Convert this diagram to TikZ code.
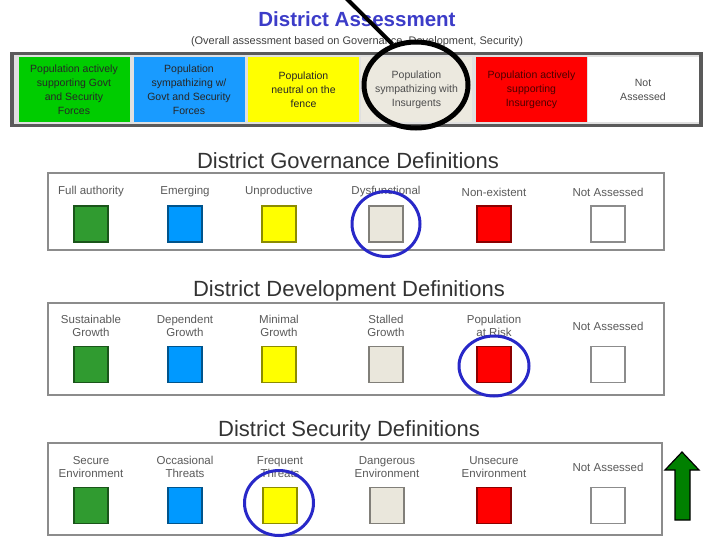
\documentclass[tikz,border=0pt]{standalone}
\usepackage{fontspec}
\setmainfont{Liberation Sans}
\usetikzlibrary{positioning,shapes.geometric}
\definecolor{cgreen}{RGB}{0,204,0}
\definecolor{cblue}{RGB}{25,155,255}
\definecolor{cyellow}{RGB}{255,255,0}
\definecolor{cbeige}{RGB}{236,233,223}
\definecolor{cred}{RGB}{255,0,0}
\definecolor{sgreen}{RGB}{48,155,48}
\definecolor{sblue}{RGB}{0,153,255}
\definecolor{syellow}{RGB}{255,255,0}
\definecolor{sbeige}{RGB}{234,231,220}
\definecolor{sred}{RGB}{255,0,0}
\definecolor{titleblue}{RGB}{60,60,200}
\definecolor{ringblue}{RGB}{40,40,200}
\definecolor{framegray}{RGB}{90,90,90}
\definecolor{boxgray}{RGB}{140,140,140}
\definecolor{arrowgreen}{RGB}{0,128,0}
\begin{document}
\begin{tikzpicture}[x=1pt,y=-1pt,
  cell/.style={fill=#1,minimum width=111pt,minimum height=65pt,inner sep=0pt,align=center,
    font=\fontsize{10.5}{14}\selectfont},
  swatch/.style={draw=#1!55!black,fill=#1,line width=1.5pt,minimum width=34pt,minimum height=36pt,inner sep=0pt},
  deflabel/.style={align=center,text=black!65,inner sep=0pt,font=\fontsize{11.5}{13.5}\selectfont},
  sectitle/.style={text=black!80,font=\fontsize{22}{24}\selectfont},
  secbox/.style={draw=boxgray,line width=1.6pt},
  ring/.style={draw=ringblue,line width=3pt,ellipse,inner sep=0pt}]
  \useasboundingbox (0,0) rectangle (706,544);
  \node[text=titleblue,font=\bfseries\fontsize{20.5}{22}\selectfont] (maintitle) at (357,19) {District Assessment};
  \node[text=black!75,font=\fontsize{11}{12}\selectfont] (subtitle) at (357,42)
    {(Overall assessment based on Governance, Development, Security)};
  \draw[draw=framegray,fill=black!12,line width=3.5pt] (12,53.5) rectangle (701,125.5);
  \foreach \cx/\col/\tc/\txt [count=\i] in {
      74/cgreen/black!85/{Population actively\\supporting Govt\\and Security\\Forces},
      189/cblue/black!85/{Population\\sympathizing w/\\Govt and Security\\Forces},
      303.5/cyellow/black!85/{Population\\neutral on the\\fence},
      416.5/cbeige/black!70/{Population\\sympathizing with\\Insurgents},
      531.5/cred/red!30!black/{Population actively\\supporting\\Insurgency},
      643/white/black!70/{Not\\Assessed}}{
    \node[cell=\col,text=\tc] (cell\i) at (\cx,89.5) {\txt};
  }
  \node[draw=black,line width=5pt,ellipse,minimum width=104pt,minimum height=86pt] (assessring) at (416,85) {};
  \coordinate (pointer) at (345,-3);
  \draw[line width=4pt] (pointer) -- (assessring.120);

  \node[sectitle] (govtitle) at (348,161) {District Governance Definitions};
  \draw[secbox] (48,173) rectangle (664,250);
  \foreach \sx/\col/\lab [count=\i] in {91/sgreen/Full authority,185/sblue/Emerging,279/syellow/Unproductive,
      386/sbeige/Dysfunctional,494/sred/Non-existent,608/white/Not Assessed}{
    \node[swatch=\col] (gov\i) at (\sx,224) {};
    \node[deflabel] (govlab\i) at (\sx,192) {\lab};
  }
  \node[ring,minimum width=68pt,minimum height=65pt] (govring) at (gov4) {};

  \node[sectitle] (devtitle) at (349,291) {District Development Definitions};
  \draw[secbox] (48,303) rectangle (664,395);
  \foreach \sx/\col/\lab [count=\i] in {91/sgreen/{Sustainable\\Growth},185/sblue/{Dependent\\Growth},
      279/syellow/{Minimal\\Growth},386/sbeige/{Stalled\\Growth},494/sred/{Population\\at Risk},608/white/Not Assessed}{
    \node[swatch=\col] (dev\i) at (\sx,364.5) {};
    \node[deflabel] (devlab\i) at (\sx,326) {\lab};
  }
  \node[ring,minimum width=70pt,minimum height=60pt] (devring) at (494,366) {};

  \node[sectitle] (sectitle) at (349,431) {District Security Definitions};
  \draw[secbox] (48,443) rectangle (662,535);
  \foreach \sx/\col/\lab [count=\i] in {91/sgreen/{Secure\\Environment},185/sblue/{Occasional\\Threats},
      280/syellow/{Frequent\\Threats},387/sbeige/{Dangerous\\Environment},494/sred/{Unsecure\\Environment},608/white/Not Assessed}{
    \node[swatch=\col] (sec\i) at (\sx,505.5) {};
    \node[deflabel] (seclab\i) at (\sx,467) {\lab};
  }
  \node[ring,minimum width=69pt,minimum height=65pt] (secring) at (279,503) {};

  \draw[fill=arrowgreen,line width=1.2pt,line join=miter] (675,520) -- (675,470) -- (665,470) -- (682,452)
    -- (699,470) -- (690,470) -- (690,520) -- cycle;
\end{tikzpicture}
\end{document}
